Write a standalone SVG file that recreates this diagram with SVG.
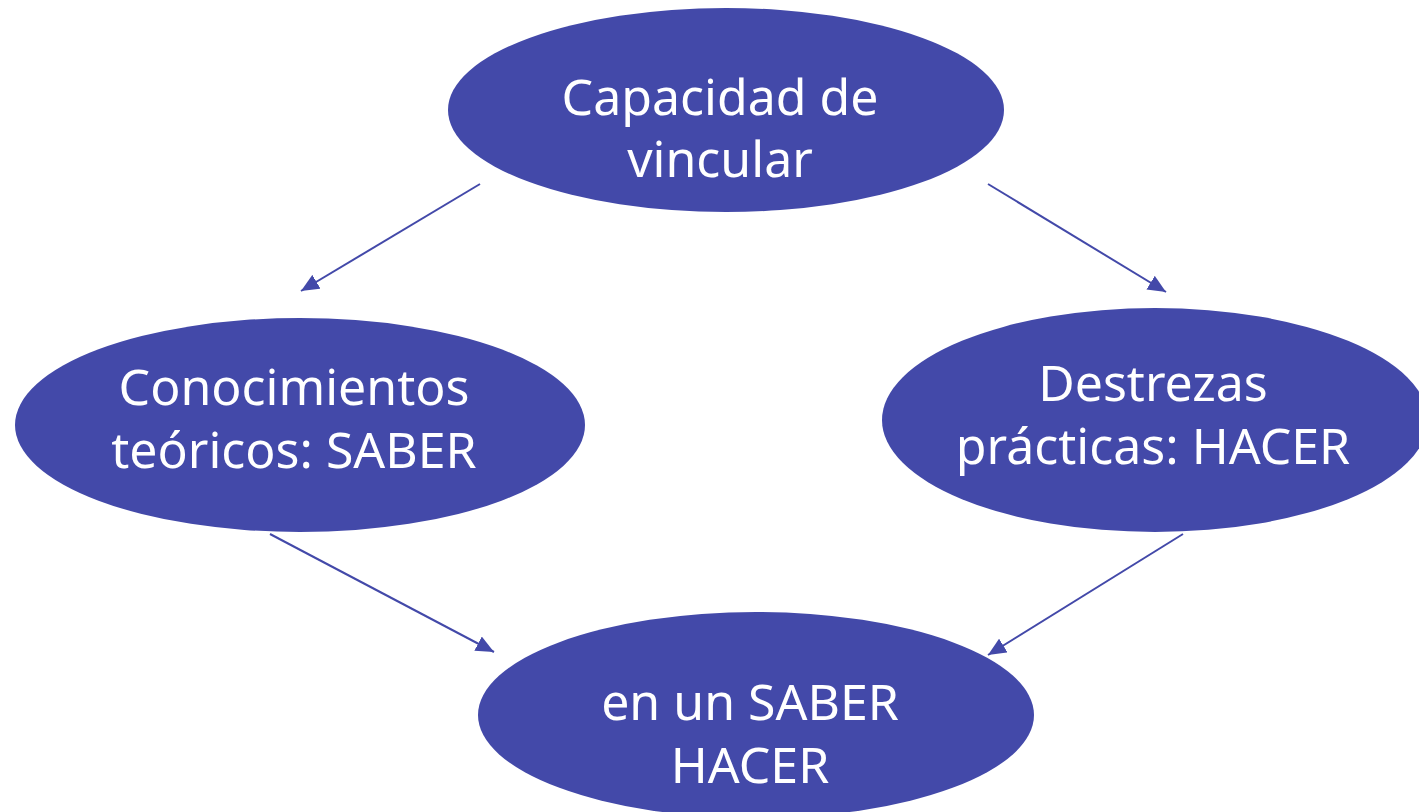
<svg xmlns="http://www.w3.org/2000/svg" width="1419" height="812" viewBox="0 0 1419 812">
<style>
.node{fill:#4349A9}
.lbl{font-family:"Noto Sans","DejaVu Sans",sans-serif;font-size:50px;fill:#ffffff;text-anchor:middle}
.edge{stroke:#4349A9;stroke-width:2;fill:none;marker-end:url(#ah)}
</style>
<defs>
<marker id="ah" markerUnits="userSpaceOnUse" markerWidth="20" markerHeight="16" refX="18" refY="8" orient="auto">
<path d="M0,0 L18,8 L0,16 Z" fill="#4349A9"/>
</marker>
</defs>
<rect width="1419" height="812" fill="#ffffff"/>
<g id="connectors">
<line class="edge" x1="480" y1="184" x2="301" y2="291"/>
<line class="edge" x1="988" y1="184" x2="1166" y2="292"/>
<line class="edge" x1="270" y1="534" x2="494" y2="652"/>
<line class="edge" x1="1183" y1="534" x2="988" y2="655"/>
</g>
<g id="n-capacidad">
<ellipse class="node" cx="726" cy="110" rx="278" ry="102"/>
<text class="lbl" x="720" y="115">Capacidad de</text>
<text class="lbl" x="720" y="177">vincular</text>
</g>
<g id="n-conocimientos">
<ellipse class="node" cx="300" cy="425" rx="285" ry="107"/>
<text class="lbl" x="294" y="405">Conocimientos</text>
<text class="lbl" x="294" y="468">teóricos: SABER</text>
</g>
<g id="n-destrezas">
<ellipse class="node" cx="1155" cy="420" rx="273" ry="112"/>
<text class="lbl" x="1153" y="401">Destrezas</text>
<text class="lbl" x="1153" y="464">prácticas: HACER</text>
</g>
<g id="n-saberhacer">
<ellipse class="node" cx="756" cy="715" rx="278" ry="103"/>
<text class="lbl" x="750" y="720">en un SABER</text>
<text class="lbl" x="750" y="783">HACER</text>
</g>
</svg>
